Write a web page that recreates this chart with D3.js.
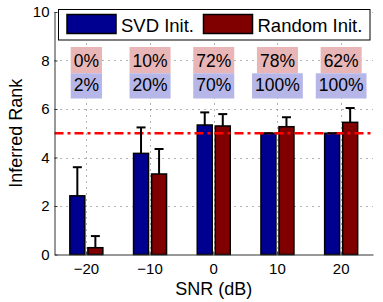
<!DOCTYPE html>
<html>
<head>
<meta charset="utf-8">
<style>
  body { margin: 0; background: #fff; }
  svg text { font-family: "Liberation Sans", Arial, sans-serif; }
</style>
</head>
<body>
<script src="https://d3js.org/d3.v7.min.js"></script>
<script>
// data
var snr = ["-20", "-10", "0", "10", "20"];
var svdMean = [2.42, 4.17, 5.34, 5.0, 5.0];
var svdErr = [1.18, 1.07, 0.52, 0.0, 0.0];
var randMean = [0.28, 3.32, 5.3, 5.27, 5.45];
var randErr = [0.48, 1.03, 0.49, 0.39, 0.59];
var svdPct = ["2%", "20%", "70%", "100%", "100%"];
var randPct = ["0%", "10%", "72%", "78%", "62%"];
var trueRank = 5;
var yTicks = [0, 2, 4, 6, 8, 10];

var W = 383, H = 302;
var plotL = 54.5, plotR = 373, plotT = 12, plotB = 254.5;

var svg = d3.select("body").append("svg")
  .attr("width", W).attr("height", H);

var x0 = d3.scaleBand().domain(snr).range([plotL, plotR]);
var bw = x0.bandwidth();
var x1 = d3.scaleBand().domain(["svd", "rand"])
  .range([bw / 2 - 16.5, bw / 2 + 16.5]).paddingInner(0.17);
var y = d3.scaleLinear().domain([0, 10]).range([plotB, plotT]);

function cx(d) { return x0(d) + bw / 2; }

// grid
var grid = svg.append("g").attr("stroke", "#666").attr("stroke-width", 1)
  .attr("stroke-dasharray", "1,5");
grid.selectAll(".gy").data(yTicks.slice(1)).enter().append("line")
  .attr("x1", plotL).attr("x2", plotR)
  .attr("y1", function(d) { return Math.round(y(d)) + 0.5; })
  .attr("y2", function(d) { return Math.round(y(d)) + 0.5; });
grid.selectAll(".gx").data(snr).enter().append("line")
  .attr("x1", function(d) { return Math.round(cx(d)) + 0.5; })
  .attr("x2", function(d) { return Math.round(cx(d)) + 0.5; })
  .attr("y1", y(0)).attr("y2", y(10));

// bars
var series = [
  {key: "svd", mean: svdMean, err: svdErr, color: "#000090"},
  {key: "rand", mean: randMean, err: randErr, color: "#800000"}
];

series.forEach(function(s) {
  var g = svg.append("g");
  g.selectAll("rect").data(snr).enter().append("rect")
    .attr("x", function(d) { return x0(d) + x1(s.key); })
    .attr("width", x1.bandwidth())
    .attr("y", function(d, i) { return y(s.mean[i]); })
    .attr("height", function(d, i) { return y(0) - y(s.mean[i]); })
    .attr("fill", s.color)
    .attr("stroke", "#000").attr("stroke-width", 1.5);
});

// true rank line
svg.append("line")
  .attr("x1", plotL).attr("x2", plotR)
  .attr("y1", y(trueRank)).attr("y2", y(trueRank))
  .attr("stroke", "#ff0000").attr("stroke-width", 2.5)
  .attr("stroke-dasharray", "9,4,3,4");

// error bars (upper only)
series.forEach(function(s) {
  var g = svg.append("g").attr("stroke", "#000").attr("stroke-width", 2);
  snr.forEach(function(d, i) {
    var bx = x0(d) + x1(s.key) + x1.bandwidth() / 2;
    var y0 = y(s.mean[i]), y1 = y(s.mean[i] + s.err[i]);
    g.append("line").attr("x1", bx).attr("x2", bx).attr("y1", y0).attr("y2", y1);
    g.append("line").attr("x1", bx - 4.5).attr("x2", bx + 4.5).attr("y1", y1).attr("y2", y1);
  });
});

// axes
var yAxis = svg.append("g")
  .attr("transform", "translate(" + plotL + ",0)")
  .call(d3.axisLeft(y).tickValues(yTicks).tickSize(-3).tickPadding(5).tickSizeOuter(0));
var xAxis = svg.append("g")
  .attr("transform", "translate(0," + plotB + ")")
  .call(d3.axisBottom(x0).tickSize(-3).tickPadding(9).tickSizeOuter(0)
    .tickFormat(function(d) { return d.replace("-", "\u2212"); }));
[yAxis, xAxis].forEach(function(a) {
  a.selectAll("text").attr("font-size", 15).attr("fill", "#000")
    .style("font-family", "'Liberation Sans', Arial, sans-serif");
  a.selectAll("line").attr("stroke", "#333");
  a.select(".domain").attr("stroke", "#333");
});

// percentage labels
function pctBoxes(labels, val, fill, yb) {
  var g = svg.append("g");
  snr.forEach(function(d, i) {
    var t = g.append("text")
      .attr("x", cx(d)).attr("y", y(val))
      .attr("text-anchor", "middle").attr("dy", "0.36em")
      .attr("font-size", 17.5).attr("fill", "#000")
      .text(labels[i]);
    var b = t.node().getBBox();
    g.insert("rect", "text")
      .attr("x", b.x - 3).attr("width", b.width + 6)
      .attr("y", yb[0]).attr("height", yb[1] - yb[0])
      .attr("fill", fill);
  });
}
pctBoxes(randPct, 8, "#e8b6b6", [47, 73.3]);
pctBoxes(svdPct, 7, "#b6b6e8", [73.3, 98.5]);

// axis labels
svg.append("text")
  .attr("x", (plotL + plotR) / 2).attr("y", 295)
  .attr("text-anchor", "middle").attr("font-size", 18)
  .text("SNR (dB)");
svg.append("text")
  .attr("transform", "translate(22," + (plotT + plotB) / 2 + ") rotate(-90)")
  .attr("text-anchor", "middle").attr("font-size", 18)
  .text("Inferred Rank");

// legend
var lg = svg.append("g");
lg.append("rect").attr("x", 58.5).attr("y", 9.5).attr("width", 311.5).attr("height", 30.5)
  .attr("fill", "#fff").attr("stroke", "#000").attr("stroke-width", 1);
var legendItems = [
  {label: "SVD Init.", color: "#000090", x: 67},
  {label: "Random Init.", color: "#800000", x: 203.5}
];
legendItems.forEach(function(it) {
  lg.append("rect").attr("x", it.x).attr("y", 14.5).attr("width", 49).attr("height", 19)
    .attr("fill", it.color).attr("stroke", "#000").attr("stroke-width", 1.5);
  lg.append("text").attr("x", it.x + 54).attr("y", 31.5)
    .attr("font-size", 18.5).text(it.label);
});
</script>
</body>
</html>
